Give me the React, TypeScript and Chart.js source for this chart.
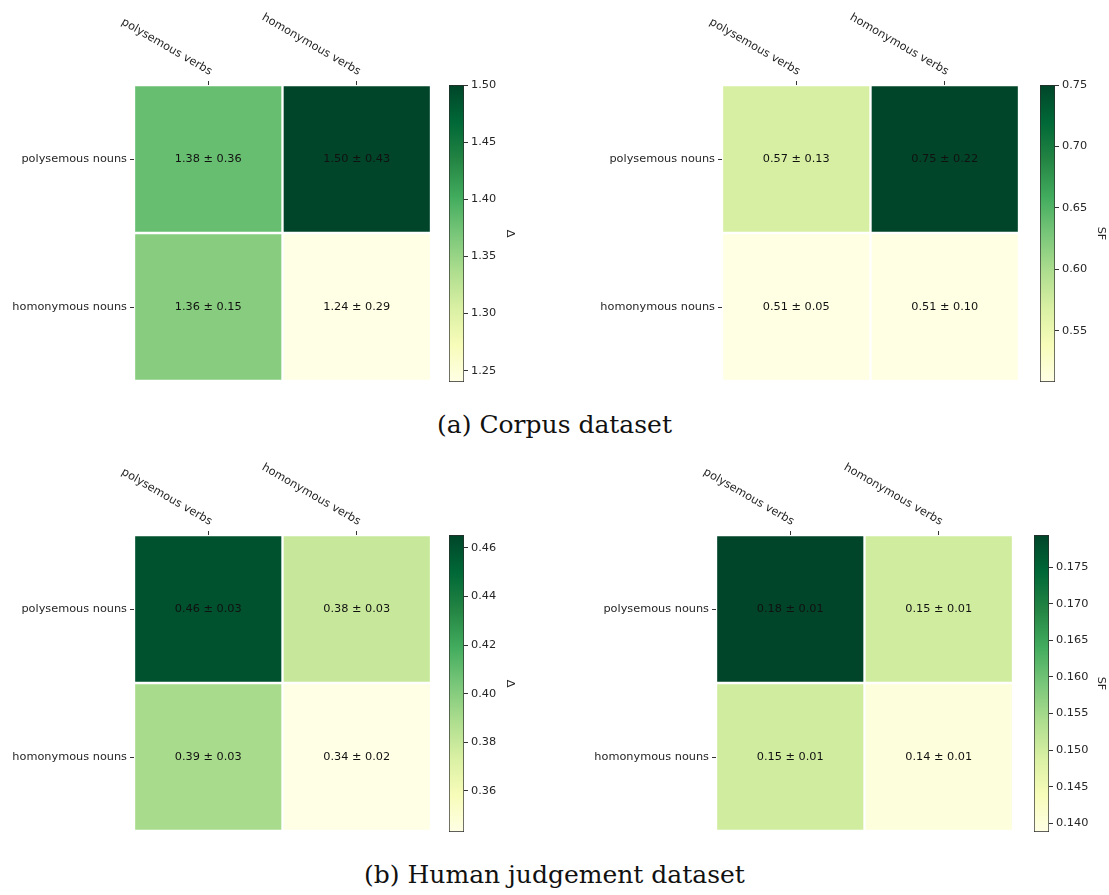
import React, { useEffect, useRef } from 'react';
import { Chart, registerables } from 'chart.js';

Chart.register(...registerables);

const SANS = "'DejaVu Sans', sans-serif";
const TEXT = '#262626';
const TICK = '#333333';
const FONT_PX = 11.3;

const columnLabels = ['polysemous verbs', 'homonymous verbs'];
const rowLabels = ['polysemous nouns', 'homonymous nouns'];

// Corpus dataset: mean and standard deviation per noun/verb combination
const corpusDeltaMean = [[1.38, 1.5], [1.36, 1.24]];
const corpusDeltaStd = [[0.36, 0.43], [0.15, 0.29]];
const corpusSfMean = [[0.57, 0.75], [0.51, 0.51]];
const corpusSfStd = [[0.13, 0.22], [0.05, 0.1]];

// Human judgement dataset
const humanDeltaMean = [[0.46, 0.38], [0.39, 0.34]];
const humanDeltaStd = [[0.03, 0.03], [0.03, 0.02]];
const humanSfMean = [[0.18, 0.15], [0.15, 0.14]];
const humanSfStd = [[0.01, 0.01], [0.01, 0.01]];

// Colour-scale limits and colour-bar ticks
const corpusDeltaLimits = [1.24, 1.5];
const corpusDeltaTicks = [1.25, 1.3, 1.35, 1.4, 1.45, 1.5];
const corpusSfLimits = [0.5085, 0.75];
const corpusSfTicks = [0.55, 0.6, 0.65, 0.7, 0.75];
const humanDeltaLimits = [0.343, 0.4653];
const humanDeltaTicks = [0.36, 0.38, 0.4, 0.42, 0.44, 0.46];
const humanSfLimits = [0.1388, 0.1794];
const humanSfTicks = [0.14, 0.145, 0.15, 0.155, 0.16, 0.165, 0.17, 0.175];

// YlGn sequential colour map
const YLGN = ['#ffffe5', '#f7fcb9', '#d9f0a3', '#addd8e', '#78c679', '#41ab5d', '#238443', '#006837', '#004529'];

function hexToRgb(h: string): number[] {
  const n = parseInt(h.slice(1), 16);
  return [(n >> 16) & 255, (n >> 8) & 255, n & 255];
}

function ylgn(t: number): string {
  const c = Math.max(0, Math.min(1, t)) * (YLGN.length - 1);
  const i = Math.min(Math.floor(c), YLGN.length - 2);
  const f = c - i;
  const a = hexToRgb(YLGN[i]);
  const b = hexToRgb(YLGN[i + 1]);
  const m = a.map((v, k) => Math.round(v + (b[k] - v) * f));
  return `rgb(${m[0]}, ${m[1]}, ${m[2]})`;
}

type Box = [number, number, number, number];

interface HeatProps {
  mean: number[][];
  std: number[][];
  limits: number[];
  plot: Box;
}

function Heatmap({ mean, std, limits, plot }: HeatProps) {
  const ref = useRef<HTMLCanvasElement>(null);
  const [l, t, r, b] = plot;
  const axisW = 134;
  const axisH = 85;
  const padR = 6;
  const padB = 14;
  const cw = r - l + axisW + padR;
  const ch = b - t + axisH + padB;

  useEffect(() => {
    const font = { family: SANS, size: FONT_PX };
    const annotate = {
      id: 'annotate',
      afterDatasetsDraw(chart: any) {
        const { ctx, chartArea } = chart;
        const x = chart.scales.x;
        const y = chart.scales.y;
        ctx.save();
        ctx.font = `${FONT_PX}px ${SANS}`;
        ctx.fillStyle = '#111111';
        ctx.textAlign = 'center';
        ctx.textBaseline = 'middle';
        mean.forEach((row, ri) =>
          row.forEach((v, ci) => {
            const yc = y.getPixelForValue(rowLabels.length - 0.5 - ri);
            ctx.fillText(`${v.toFixed(2)} ± ${std[ri][ci].toFixed(2)}`, x.getPixelForValue(ci), yc);
          })
        );
        ctx.fillStyle = TEXT;
        columnLabels.forEach((lab, ci) => {
          ctx.save();
          ctx.translate(x.getPixelForValue(ci), chartArea.top - 7.5);
          ctx.rotate(Math.PI / 6);
          ctx.textAlign = 'right';
          ctx.textBaseline = 'bottom';
          ctx.fillText(lab, 0, 0);
          ctx.restore();
        });
        ctx.restore();
      },
    };

    const chart = new Chart(ref.current as HTMLCanvasElement, {
      type: 'bar',
      data: {
        labels: columnLabels,
        datasets: rowLabels.map((name, ri) => ({
          label: name,
          data: columnLabels.map(() => [rowLabels.length - 1 - ri, rowLabels.length - ri]),
          backgroundColor: mean[ri].map((v) => ylgn((v - limits[0]) / (limits[1] - limits[0]))),
          borderColor: '#ffffff',
          borderWidth: 1.5,
          borderSkipped: false,
          grouped: false,
          barPercentage: 1,
          categoryPercentage: 1,
        })) as any,
      },
      options: {
        animation: false,
        responsive: false,
        devicePixelRatio: 1,
        layout: { padding: { left: 0, top: 0, right: padR, bottom: padB } },
        plugins: { legend: { display: false }, tooltip: { enabled: false } },
        scales: {
          x: {
            type: 'category',
            position: 'top',
            offset: true,
            grid: { offset: false, drawOnChartArea: false, drawTicks: true, tickLength: 4, color: TICK },
            border: { display: false },
            ticks: { display: false },
            afterFit: (s: any) => {
              s.height = axisH;
            },
          },
          y: {
            type: 'linear',
            min: 0,
            max: rowLabels.length,
            grid: { drawOnChartArea: false, drawTicks: true, tickLength: 4, color: TICK },
            border: { display: false },
            ticks: {
              font,
              color: TEXT,
              padding: 3,
              autoSkip: false,
              callback: (v: any) => rowLabels[rowLabels.length - 1 - Math.floor(Number(v))],
            },
            afterBuildTicks: (s: any) => {
              s.ticks = rowLabels.map((_, i) => ({ value: i + 0.5 }));
            },
            afterFit: (s: any) => {
              s.width = axisW;
            },
          },
        },
      } as any,
      plugins: [annotate],
    });
    return () => chart.destroy();
  }, []);

  return (
    <canvas
      ref={ref}
      width={cw}
      height={ch}
      style={{ position: 'absolute', left: l - axisW, top: t - axisH, width: cw, height: ch }}
    />
  );
}

interface BarProps {
  limits: number[];
  ticks: number[];
  decimals: number;
  label: string;
  bar: Box;
  titleX: number;
}

function ColourBar({ limits, ticks, decimals, label, bar, titleX }: BarProps) {
  const ref = useRef<HTMLCanvasElement>(null);
  const [l, t, r, b] = bar;
  const padL = 9;
  const padV = 12;
  const left = l - padL;
  const right = titleX + 8;
  const cw = right - left;
  const ch = b - t + 2 * padV;
  const lineHeight = FONT_PX * 1.2;

  useEffect(() => {
    const font = { family: SANS, size: FONT_PX };
    const chart = new Chart(ref.current as HTMLCanvasElement, {
      type: 'bar',
      data: {
        labels: [label],
        datasets: [
          {
            label,
            data: [[limits[0], limits[1]]],
            backgroundColor: (c: any) => {
              const area = c.chart.chartArea;
              if (!area) return YLGN[0];
              const g = c.chart.ctx.createLinearGradient(0, area.bottom, 0, area.top);
              YLGN.forEach((col, i) => g.addColorStop(i / (YLGN.length - 1), col));
              return g;
            },
            borderColor: '#2b2b2b',
            borderWidth: 1,
            borderSkipped: false,
            barPercentage: 1,
            categoryPercentage: 1,
          },
        ] as any,
      },
      options: {
        animation: false,
        responsive: false,
        devicePixelRatio: 1,
        layout: { padding: { left: padL, top: padV, right: 0, bottom: padV } },
        plugins: { legend: { display: false }, tooltip: { enabled: false } },
        scales: {
          x: { type: 'category', display: false },
          y: {
            type: 'linear',
            position: 'right',
            min: limits[0],
            max: limits[1],
            grid: { drawOnChartArea: false, drawTicks: true, tickLength: 4, color: TICK },
            border: { display: false },
            ticks: {
              font,
              color: TEXT,
              padding: 3,
              autoSkip: false,
              callback: (v: any) => Number(v).toFixed(decimals),
            },
            afterBuildTicks: (s: any) => {
              s.ticks = ticks.map((v) => ({ value: v }));
            },
            title: {
              display: true,
              text: label,
              font,
              color: TEXT,
              padding: { top: right - titleX - lineHeight / 2, bottom: 0 },
            },
            afterFit: (s: any) => {
              s.width = cw - padL - (r - l);
            },
          },
        },
      } as any,
    });
    return () => chart.destroy();
  }, []);

  return (
    <canvas
      ref={ref}
      width={cw}
      height={ch}
      style={{ position: 'absolute', left, top: t - padV, width: cw, height: ch }}
    />
  );
}

const captionStyle: React.CSSProperties = {
  position: 'absolute',
  left: 0,
  width: 1109,
  textAlign: 'center',
  fontFamily: "'DejaVu Serif', 'Liberation Serif', serif",
  fontSize: 25,
  lineHeight: '30px',
  color: '#111111',
};

export default function App() {
  return (
    <div
      style={{
        position: 'absolute',
        left: 0,
        top: 0,
        width: 1109,
        height: 895,
        background: '#ffffff',
        overflow: 'hidden',
      }}
    >
      <Heatmap mean={corpusDeltaMean} std={corpusDeltaStd} limits={corpusDeltaLimits} plot={[134, 85, 431, 381]} />
      <ColourBar limits={corpusDeltaLimits} ticks={corpusDeltaTicks} decimals={2} label="Δ" bar={[449, 85, 464, 382]} titleX={510} />
      <Heatmap mean={corpusSfMean} std={corpusSfStd} limits={corpusSfLimits} plot={[722, 85, 1019, 381]} />
      <ColourBar limits={corpusSfLimits} ticks={corpusSfTicks} decimals={2} label="SF" bar={[1040, 85, 1055, 382]} titleX={1101} />
      <div style={{ ...captionStyle, top: 410 }}>(a) Corpus dataset</div>

      <Heatmap mean={humanDeltaMean} std={humanDeltaStd} limits={humanDeltaLimits} plot={[134, 535, 431, 831]} />
      <ColourBar limits={humanDeltaLimits} ticks={humanDeltaTicks} decimals={2} label="Δ" bar={[449, 535, 464, 832]} titleX={510} />
      <Heatmap mean={humanSfMean} std={humanSfStd} limits={humanSfLimits} plot={[716, 535, 1013, 831]} />
      <ColourBar limits={humanSfLimits} ticks={humanSfTicks} decimals={3} label="SF" bar={[1034, 535, 1049, 832]} titleX={1101} />
      <div style={{ ...captionStyle, top: 860 }}>(b) Human judgement dataset</div>
    </div>
  );
}
